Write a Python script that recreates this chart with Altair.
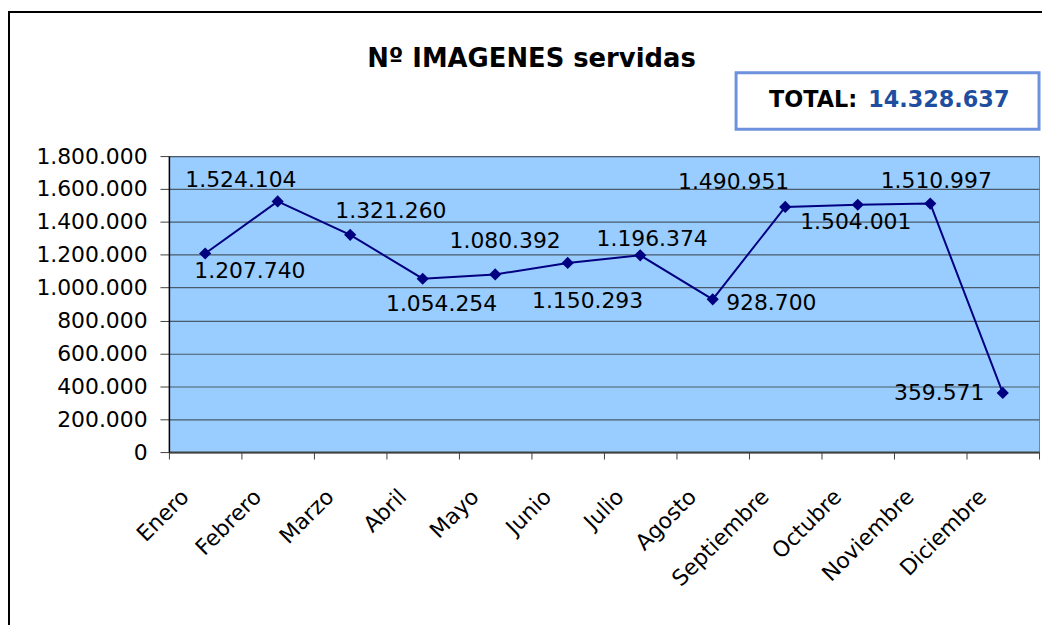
import altair as alt
import pandas as pd

# ---- data ----
months = ["Enero", "Febrero", "Marzo", "Abril", "Mayo", "Junio", "Julio",
          "Agosto", "Septiembre", "Octubre", "Noviembre", "Diciembre"]
images = [1207740, 1524104, 1321260, 1054254, 1080392, 1150293, 1196374,
          928700, 1490951, 1504001, 1510997, 359571]
y_ticks = [0, 200000, 400000, 600000, 800000, 1000000, 1200000, 1400000,
           1600000, 1800000]
title_text = "Nº IMAGENES servidas"
total_label = "TOTAL:"

df = pd.DataFrame({"month": months, "images": images})
df["pos"] = [i + 0.5 for i in range(len(months))]
total_df = pd.DataFrame({"total": [sum(images)]})

# ---- style: label offsets (pixels) relative to each point ----
LABEL_OFFSETS = {
    "Enero": (45, 18), "Febrero": (-37, -22), "Marzo": (41, -24),
    "Abril": (19, 25), "Mayo": (10, -34), "Junio": (20, 38),
    "Julio": (12, -16), "Agosto": (59, 4), "Septiembre": (-52, -25),
    "Octubre": (-2, 17), "Noviembre": (6, -23), "Diciembre": (-64, 0),
}

FONT = "DejaVu Sans"
NAVY = "#000080"
W, H = 876, 298

month_arr = "[" + ",".join("'" + m + "'" for m in months) + "]"

x_enc = alt.X(
    "pos:Q",
    scale=alt.Scale(domain=[0, len(months)], nice=False, zero=False),
    axis=alt.Axis(
        values=list(range(len(months) + 1)),
        labelExpr=month_arr + "[datum.value] || ''",
        labelAngle=-45, labelAlign="right", labelBaseline="middle",
        labelOffset=16, labelPadding=34, labelFontSize=22, labelFont=FONT,
        labelColor="black", labelFlush=False, labelOverlap=False, labelBound=False,
        tickSize=7, tickColor="#404040", domainColor="#404040", domainWidth=2,
        grid=False, title=None,
    ),
)
y_enc = alt.Y(
    "images:Q",
    scale=alt.Scale(domain=[0, 1800000], nice=False),
    axis=alt.Axis(
        values=y_ticks, format=",d", labelFontSize=22, labelFont=FONT,
        labelColor="black", labelPadding=13, tickSize=9, tickColor="#404040",
        domainColor="black", domainWidth=1.5, grid=True, gridColor="#4A5A6A",
        gridWidth=1.2, title=None, labelFlush=False, labelOverlap=False,
    ),
)

base = alt.Chart(df)
line = base.mark_line(color=NAVY, strokeWidth=2).encode(x=x_enc, y=y_enc)
points = base.mark_point(shape="diamond", filled=True, size=150, color=NAVY,
                         opacity=1).encode(x=x_enc, y=y_enc)

label_layers = []
for m in months:
    dx, dy = LABEL_OFFSETS[m]
    label_layers.append(
        base.transform_filter(alt.datum.month == m)
        .mark_text(dx=dx, dy=dy, fontSize=22, font=FONT, color="black",
                   align="center", baseline="middle")
        .encode(x=x_enc, y=y_enc, text=alt.Text("images:Q", format=",d"))
    )

deco = alt.Chart(total_df)
frame = deco.mark_rect(fillOpacity=0, stroke="black", strokeWidth=2).encode(
    x=alt.value(-161), x2=alt.value(900), y=alt.value(-145), y2=alt.value(500))
title = deco.mark_text(fontSize=26, fontWeight="bold", font=FONT, color="black",
                       align="center", baseline="middle").encode(
    x=alt.value(365), y=alt.value(-98), text=alt.value(title_text))
box = deco.mark_rect(fill="white", stroke="#6F92DE", strokeWidth=3).encode(
    x=alt.value(571), x2=alt.value(876), y=alt.value(-84), y2=alt.value(-27))
total_lbl = deco.mark_text(fontSize=22.5, fontWeight="bold", font=FONT, color="black",
                           align="right", baseline="middle").encode(
    x=alt.value(693), y=alt.value(-56), text=alt.value(total_label))
total_val = deco.mark_text(fontSize=22.5, fontWeight="bold", font=FONT, color="#1F4EA0",
                           align="left", baseline="middle").encode(
    x=alt.value(704), y=alt.value(-56), text=alt.Text("total:Q", format=",d"))

chart = alt.layer(
    line, points, *label_layers, frame, title, box, total_lbl, total_val
).properties(
    width=W, height=H,
    autosize=alt.AutoSizeParams(type="none"),
    padding={"left": 162, "top": 147, "right": 3, "bottom": 172},
    background="white",
).configure(
    locale=alt.Locale(number=alt.NumberLocale(
        decimal=",", thousands=".", grouping=[3], currency=["", "€"])),
).configure_view(
    fill="#99CCFF", stroke="#808080", strokeWidth=1,
)

chart.save("out.html", embed_options={"renderer": "svg", "actions": False})
